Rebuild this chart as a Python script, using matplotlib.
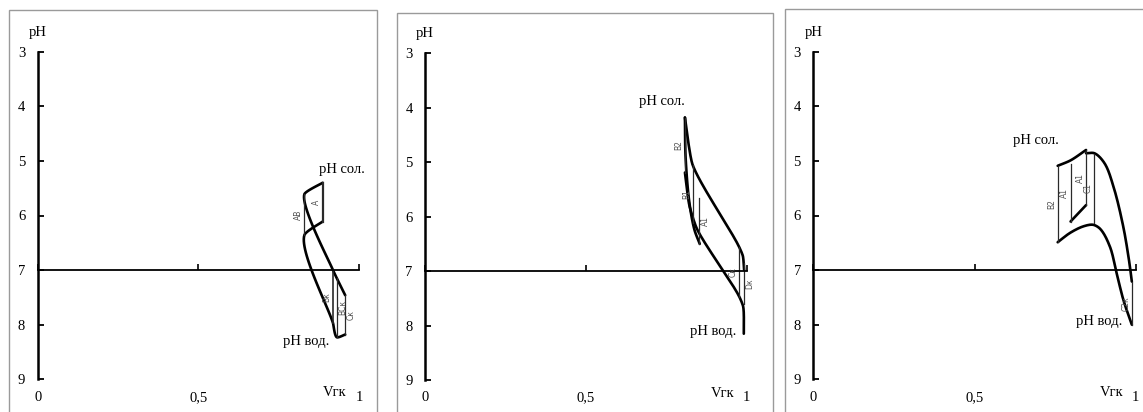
import numpy as np
import matplotlib
matplotlib.use("Agg")
import matplotlib.pyplot as plt
from matplotlib.patches import Rectangle

# ---------------- data ----------------
ph_ticks = [3, 4, 5, 6, 7, 8, 9]
v_ticks = [0, 0.5, 1]
v_tick_labels = ["0", "0,5", "1"]

# Panel 1: horizons (Vгк, pH сол., pH вод.)
p1_hor = ["A", "AB", "Вк", "ВСк", "Ск"]
p1_v = [0.887, 0.830, 0.919, 0.931, 0.957]
p1_sol = [5.40, 5.61, 7.00, 7.15, 7.46]
p1_vod = [6.11, 6.36, 7.97, 8.23, 8.18]

# Panel 2: horizons
p2_hor = ["B2", "B1", "A1", "Ск", "Dк"]
p2_v = [0.808, 0.832, 0.853, 0.977, 0.991]
p2_top = [4.18, 5.05, 5.66, 6.56, 6.86]
p2_bot = [5.19, 6.12, 6.50, 7.47, 7.60]
# Panel 2 curves
p2_sol_v = [0.808, 0.818, 0.832, 0.976, 0.988, 0.992]
p2_sol_ph = [4.18, 4.62, 5.05, 6.55, 6.72, 6.98]
p2_vod_v = [0.808, 0.822, 0.845, 0.977, 0.989, 0.991]
p2_vod_ph = [5.19, 5.80, 6.22, 7.47, 7.65, 8.15]
p2_loop_v = [0.808, 0.810, 0.822, 0.838, 0.854]
p2_loop_ph = [4.18, 4.90, 5.75, 6.25, 6.50]

# Panel 3: horizons
p3_hor = ["B2", "A1", "A1", "C1", "C2к"]
p3_v = [0.758, 0.798, 0.846, 0.872, 0.988]
p3_top = [5.09, 5.06, 4.80, 4.87, 7.21]
p3_bot = [6.49, 6.11, 5.81, 6.14, 8.00]
# Panel 3 curves
p3_rim_v = [0.758, 0.798, 0.846]
p3_rim_ph = [5.09, 4.99, 4.80]
p3_sol_v = [0.846, 0.872, 0.903, 0.931, 0.962, 0.980, 0.988]
p3_sol_ph = [4.86, 4.86, 5.04, 5.47, 6.22, 6.85, 7.21]
p3_vod_v = [0.758, 0.796, 0.837, 0.868, 0.889, 0.920, 0.941, 0.962, 0.988]
p3_vod_ph = [6.49, 6.32, 6.20, 6.17, 6.24, 6.57, 7.06, 7.55, 8.00]
p3_base_v = [0.798, 0.846]
p3_base_ph = [6.11, 5.81]

# ---------------- helpers ----------------
W, H = 1143, 412
SERIF = ["Liberation Serif", "DejaVu Serif"]


def smooth_path(xs, ys, sx, sy, k=0.3, n=30):
    """Bezier smoothing with bounded tangents (computed in pixel scale)."""
    P = np.column_stack([np.asarray(xs, float) * sx, np.asarray(ys, float) * sy])
    m = len(P)
    if m < 3:
        return P[:, 0] / sx, P[:, 1] / sy
    seg = P[1:] - P[:-1]
    L = np.linalg.norm(seg, axis=1)
    u = seg / L[:, None]
    d = np.empty_like(P)
    d[0] = u[0]
    d[-1] = u[-1]
    for i in range(1, m - 1):
        b = u[i - 1] + u[i]
        nb = np.linalg.norm(b)
        d[i] = b / nb if nb > 1e-9 else u[i]
    t = np.linspace(0, 1, n)[:, None]
    out = []
    for i in range(m - 1):
        p0, p3 = P[i], P[i + 1]
        c1 = p0 + d[i] * L[i] * k
        c2 = p3 - d[i + 1] * L[i] * k
        c = ((1 - t) ** 3 * p0 + 3 * (1 - t) ** 2 * t * c1
             + 3 * (1 - t) * t ** 2 * c2 + t ** 3 * p3)
        out.append(c if i == 0 else c[1:])
    C = np.vstack(out)
    return C[:, 0] / sx, C[:, 1] / sy


def make_panel(fig, x0, x1, y3, y9, frame):
    ax = fig.add_axes([x0 / W, 1 - y9 / H, (x1 - x0) / W, (y9 - y3) / H])
    ax.set_xlim(0, 1)
    ax.set_ylim(9, 3)
    ax.patch.set_alpha(0)
    for s in ("top", "right"):
        ax.spines[s].set_visible(False)
    ax.spines["left"].set_linewidth(1.8)
    ax.spines["bottom"].set_position(("data", 7))
    ax.spines["bottom"].set_linewidth(1.3)
    ax.set_yticks(ph_ticks)
    ax.set_yticklabels([str(t) for t in ph_ticks], fontfamily=SERIF, fontsize=10.5)
    ax.tick_params(axis="y", direction="in", length=4, width=1.3, pad=9)
    ax.set_xticks(v_ticks)
    ax.tick_params(axis="x", direction="in", length=4, width=1.2, labelbottom=False)
    for v, lab in zip(v_ticks, v_tick_labels):
        ax.text(v, 9.33, lab, ha="center", va="center", fontsize=10.5,
                fontfamily=SERIF, clip_on=False)
    ax.text(0.925, 9.25, "Vгк", ha="center", va="center", fontsize=10.5,
            fontfamily=SERIF, clip_on=False)
    ax.text(0.0, 2.64, "pH", ha="center", va="center", fontsize=10.5,
            fontfamily=SERIF, clip_on=False)
    fx0, fy0, fx1 = frame
    fig.patches.append(Rectangle((fx0 / W, -0.05), (fx1 - fx0) / W, 1 - fy0 / H + 0.05,
                                 transform=fig.transFigure, fill=False,
                                 edgecolor="#9a9a9a", linewidth=1.0))
    sx = (x1 - x0)
    sy = (y9 - y3) / 6.0
    return ax, sx, sy


def thick(ax, xs, ys, sx, sy, k=0.3):
    cx, cy = smooth_path(xs, ys, sx, sy, k=k)
    ax.plot(cx, cy, color="black", lw=1.9, solid_capstyle="round",
            solid_joinstyle="round", clip_on=False)


def horizons(ax, names, vs, tops, bots, sides, widths=None):
    if widths is None:
        widths = [0.9] * len(names)
    for name, v, t, b, s, w in zip(names, vs, tops, bots, sides, widths):
        ax.plot([v, v], [t, b], color="#2a2a2a", lw=w, clip_on=False)
        ax.annotate(name, (v, (t + b) / 2), xytext=(-4.2 if s == "l" else 4.2, 0),
                    textcoords="offset points", rotation=90, ha="center",
                    va="center", fontsize=5.5, color="#505050", clip_on=False)


def label(ax, v, ph, text):
    ax.text(v, ph, text, ha="center", va="center", fontsize=10.5,
            fontfamily=SERIF, clip_on=False)


fig = plt.figure(figsize=(W / 100, H / 100), dpi=100)
fig.patch.set_facecolor("white")

# ---- panel 1 ----
ax1, sx, sy = make_panel(fig, 37.7, 359.0, 51.7, 379.3, (9, 10, 377))
thick(ax1, p1_v, p1_sol, sx, sy, k=0.15)
thick(ax1, p1_v, p1_vod, sx, sy, k=0.18)
horizons(ax1, p1_hor, p1_v, p1_sol, p1_vod, ["l", "l", "l", "r", "r"],
         [1.6, 0.9, 1.2, 0.9, 0.9])
label(ax1, 0.947, 5.15, "pH сол.")
label(ax1, 0.835, 8.31, "pH вод.")

# ---- panel 2 ----
ax2, sx, sy = make_panel(fig, 425.0, 746.7, 53.3, 380.0, (397, 12.7, 773))
thick(ax2, p2_sol_v, p2_sol_ph, sx, sy, k=0.22)
thick(ax2, p2_vod_v, p2_vod_ph, sx, sy, k=0.22)
thick(ax2, p2_loop_v, p2_loop_ph, sx, sy)
horizons(ax2, p2_hor, p2_v, p2_top, p2_bot, ["l", "l", "r", "l", "r"])
label(ax2, 0.738, 3.89, "pH сол.")
label(ax2, 0.895, 8.11, "pH вод.")

# ---- panel 3 ----
ax3, sx, sy = make_panel(fig, 813.3, 1135.7, 51.7, 379.3, (785, 9.3, 1160))
thick(ax3, p3_rim_v, p3_rim_ph, sx, sy)
thick(ax3, p3_sol_v, p3_sol_ph, sx, sy)
thick(ax3, p3_vod_v, p3_vod_ph, sx, sy)
thick(ax3, p3_base_v, p3_base_ph, sx, sy)
horizons(ax3, p3_hor, p3_v, p3_top, p3_bot, ["l", "l", "l", "l", "l"])
label(ax3, 0.690, 4.62, "pH сол.")
label(ax3, 0.888, 7.95, "pH вод.")

fig.savefig("out.png", dpi=100, facecolor="white")
